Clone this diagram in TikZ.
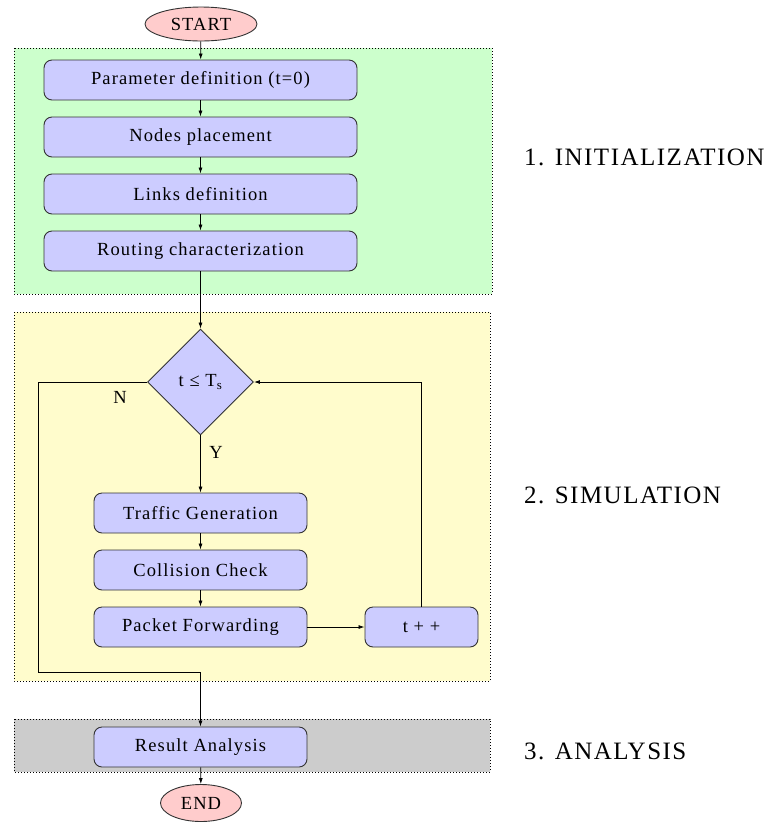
\documentclass[tikz,border=0pt]{standalone}
\usepackage{fontspec}
\setmainfont{Liberation Serif}[LetterSpace=6]
\usetikzlibrary{shapes.geometric,arrows.meta}
\definecolor{boxfill}{HTML}{CCCCFF}
\definecolor{termfill}{HTML}{FFCCCC}
\definecolor{initfill}{HTML}{CCFFCC}
\definecolor{simfill}{HTML}{FFFCCC}
\definecolor{anafill}{HTML}{CCCCCC}
\definecolor{edge}{HTML}{333333}
\begin{document}
\begin{tikzpicture}[x=1pt,y=-1pt,
  procbox/.style={draw=edge,fill=boxfill,rounded corners=8pt,minimum height=40pt,inner sep=0pt,font=\fontsize{18.5}{20}\selectfont,line width=0.9pt},
  termnode/.style={draw=edge,fill=termfill,ellipse,inner sep=0pt,font=\fontsize{18.5}{20}\selectfont,line width=0.9pt},
  decnode/.style={draw=edge,fill=boxfill,diamond,minimum width=106pt,minimum height=106pt,inner sep=0pt,font=\fontsize{18.5}{20}\selectfont,line width=0.9pt},
  phase/.style={draw=black,dotted,line width=1pt},
  phaselabel/.style={anchor=west,font=\fontsize{25}{27}\selectfont,inner sep=0pt},
  small/.style={font=\fontsize{18.5}{20}\selectfont,inner sep=0pt},
  arr/.style={-{Latex[length=6pt,width=4pt]},line width=0.8pt}]
\useasboundingbox (0,0) rectangle (767,823);
% phase backgrounds
\fill[initfill] (14,48) rectangle (492,294);
\draw[phase] (14,48) rectangle (492,294);
\fill[simfill] (14,312) rectangle (490,681);
\draw[phase] (14,312) rectangle (490,681);
\fill[anafill] (14,719) rectangle (490,772);
\draw[phase] (14,719) rectangle (490,772);
% nodes
\node[termnode,minimum width=112pt,minimum height=34pt] (start) at (201,24) {START};
\node[procbox,minimum width=313pt] (param) at (200.5,80) {Parameter definition (t=0)};
\node[procbox,minimum width=313pt] (place) at (200.5,137) {Nodes placement};
\node[procbox,minimum width=313pt] (links) at (200.5,194) {Links definition};
\node[procbox,minimum width=313pt] (route) at (200.5,251) {Routing characterization};
\node[decnode] (dec) at (200.5,382) {t ≤ T\textsubscript{s}};
\node[procbox,minimum width=213pt] (traffic) at (200.5,513) {Traffic Generation};
\node[procbox,minimum width=213pt] (coll) at (200.5,570) {Collision Check};
\node[procbox,minimum width=213pt] (fwd) at (200.5,627) {Packet Forwarding};
\node[procbox,minimum width=113pt] (tpp) at (421.5,627) {t + +};
\node[procbox,minimum width=213pt] (res) at (200.5,747) {Result Analysis};
\node[termnode,minimum width=81pt,minimum height=37pt] (end) at (201,803) {END};
\coordinate (nbot) at (38,672);
% labels
\node[small] (nlab) at (120,397) {N};
\node[small] (ylab) at (216,452) {Y};
\node[phaselabel] (l1) at (524,157) {1. INITIALIZATION};
\node[phaselabel] (l2) at (524,495) {2. SIMULATION};
\node[phaselabel] (l3) at (524,751) {3. ANALYSIS};
% connectors
\draw[arr] (start) -- (param);
\draw[arr] (param) -- (place);
\draw[arr] (place) -- (links);
\draw[arr] (links) -- (route);
\draw[arr] (route) -- (dec);
\draw[arr] (dec) -- (traffic);
\draw[arr] (traffic) -- (coll);
\draw[arr] (coll) -- (fwd);
\draw[arr] (fwd) -- (tpp);
\draw[arr] (tpp.north) |- (dec.east);
\draw[arr] (dec.west) -| (nbot) -| (res.north);
\draw[arr] (res) -- (end);
\end{tikzpicture}
\end{document}
